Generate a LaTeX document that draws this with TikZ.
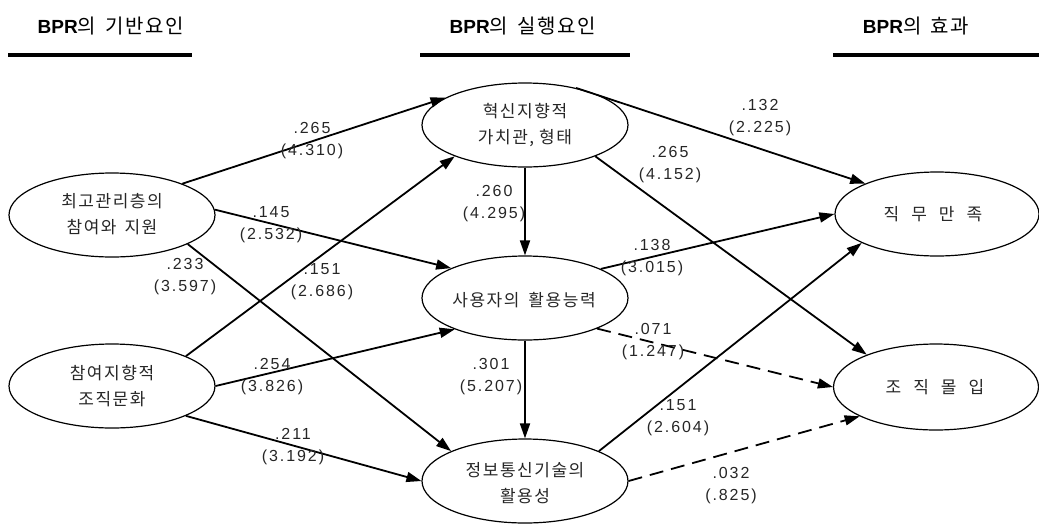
\documentclass[tikz,border=0pt]{standalone}
\usepackage{fontspec}
\setmainfont{Liberation Sans}
\newfontfamily\krh[LetterSpace=9]{Noto Sans CJK KR}
\newfontfamily\krsp[LetterSpace=9]{Noto Sans CJK KR}
\newfontfamily\kr{Noto Sans CJK KR}
\newfontfamily\numf[LetterSpace=12]{Liberation Sans}
\usetikzlibrary{shapes.geometric,arrows.meta}
\begin{document}
\begin{tikzpicture}[x=1pt,y=-1pt,
  ell/.style={draw,line width=1.2pt,ellipse,inner sep=0pt,minimum width=206pt,minimum height=84pt},
  etext/.style={font=\krsp\fontsize{17}{26}\selectfont,align=center,text=black!85},
  sig/.style={line width=1.8pt,-{Triangle[length=15pt,width=10pt]}},
  nsig/.style={sig,dash pattern=on 14pt off 8pt},
  coef/.style={font=\numf\fontsize{16}{22}\selectfont,align=center,text=black!85},
  head/.style={font=\fontsize{19}{22}\selectfont},
  hline/.style={line width=3.5pt}]
\useasboundingbox (0,0) rectangle (1039,523);
% headers
\node[head] (h1) at (111,26) {\textbf{BPR}{\krh\fontsize{20}{22}\selectfont 의\hspace{9pt}기반요인}};
\node[head] (h2) at (523,26) {\textbf{BPR}{\krh\fontsize{20}{22}\selectfont 의\hspace{9pt}실행요인}};
\node[head] (h3) at (916,26) {\textbf{BPR}{\krh\fontsize{20}{22}\selectfont 의\hspace{9pt}효과}};
\draw[hline] (8,55) -- (192,55);
\draw[hline] (420,55) -- (630,55);
\draw[hline] (833,55) -- (1039,55);
% ellipses
\node[ell] (tm) at (112,215) {};
\node[ell] (cu) at (112,386) {};
\node[ell] (inv) at (525,125) {};
\node[ell] (us) at (525,298) {};
\node[ell] (ic) at (525,481) {};
\node[ell,minimum width=204pt] (js) at (937,214) {};
\node[ell,minimum width=205pt,minimum height=86pt] (cm) at (936,387) {};
% ellipse texts
\node[etext] (tmt) at (112,214) {최고관리층의\\참여와\hspace{8pt}지원};
\node[etext] (cut) at (112,386) {참여지향적\\조직문화};
\node[etext] (invt) at (525,125) {혁신지향적\\가치관,\hspace{5pt}형태};
\node[etext] (ust) at (524,300) {사용자의\hspace{9pt}활용능력};
\node[etext] (ict) at (525,483) {정보통신기술의\\활용성};
\node[etext] (jst) at (933,214) {직\hspace{12pt}무\hspace{12pt}만\hspace{12pt}족};
\node[etext] (cmt) at (935,387) {조\hspace{12pt}직\hspace{12pt}몰\hspace{12pt}입};
% connectors
\draw[sig] (tm.24) -- (inv.161);
\draw[sig] (tm.3) -- (us.158);
\draw[sig] (tm.-21) -- (ic.158);
\draw[sig] (cu.22) -- (inv.204);
\draw[sig] (cu.0) -- (us.204);
\draw[sig] (cu.-22) -- (ic.180);
\draw[sig] (inv.south) -- (us.north);
\draw[sig] (us.south) -- (ic.north);
\draw[sig] (inv.36) -- (js.157);
\draw[sig] (inv.-24) -- (cm.155);
\draw[sig] (us.21) -- (js.180);
\draw[nsig] (us.-23) -- (cm.180);
\draw[sig] (ic.22) -- (js.201);
\draw[nsig] (ic.0) -- (cm.201);
% coefficients
\node[coef] (l1) at (312,141) {.265\\(4.310)};
\node[coef] (l2) at (271,225) {.145\\(2.532)};
\node[coef] (l3) at (185,277) {.233\\(3.597)};
\node[coef] (l4) at (322,282) {.151\\(2.686)};
\node[coef] (l5) at (272,377) {.254\\(3.826)};
\node[coef] (l6) at (293,447) {.211\\(3.192)};
\node[coef] (l7) at (494,204) {.260\\(4.295)};
\node[coef] (l8) at (491,377) {.301\\(5.207)};
\node[coef] (l9) at (760,118) {.132\\(2.225)};
\node[coef] (l10) at (670,165) {.265\\(4.152)};
\node[coef] (l11) at (652,258) {.138\\(3.015)};
\node[coef] (l12) at (653,342) {.071\\(1.247)};
\node[coef] (l13) at (678,418) {.151\\(2.604)};
\node[coef] (l14) at (731,486) {.032\\(.825)};
\end{tikzpicture}
\end{document}
